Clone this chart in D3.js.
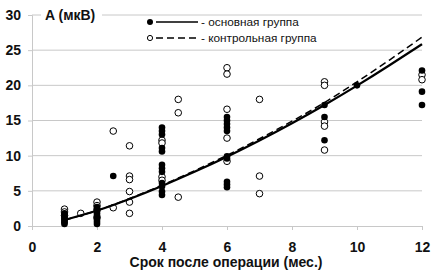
<!DOCTYPE html>
<html><head><meta charset="utf-8">
<script src="https://cdn.jsdelivr.net/npm/d3@7"></script>
<style>html,body{margin:0;padding:0;background:#fff;}svg{display:block;}</style>
</head><body>
<svg id="c" width="443" height="276"></svg>
<script>
// Data
const xTicks = [0, 2, 4, 6, 8, 10, 12];
const yTicks = [0, 5, 10, 15, 20, 25, 30];
const xTitle = "Срок после операции (мес.)";
const yTitle = "A (мкВ)";
const legendMain = "- основная группа";
const legendCtrl = "- контрольная группа";

// основная группа (filled)
const mainX = [1,1,1,1,1,1,1,1, 2,2,2,2,2,2,2,2,2, 2.5,
  4,4,4,4,4,4,4,4,4,4,4,4, 6,6,6,6,6,6,6,6,6,6, 9,9,9, 10, 12,12,12];
const mainY = [0.3,0.5,0.7,0.9,1.1,1.3,1.6,1.8, 0.3,0.6,0.9,1.2,1.5,1.8,2.1,2.4,2.7, 7.1,
  14.0,13.5,13.0,11.1,10.6,8.7,8.2,7.7,6.1,5.6,4.9,4.4,
  15.5,15.0,14.5,14.0,13.5,9.9,9.6,6.3,5.9,5.5, 17.2,15.5,12.2, 20.0, 22.1,19.1,17.2];

// контрольная группа (open)
const ctrlX = [1,1,1, 1.5, 2,2,2,2, 2.5,2.5, 3,3,3,3,3,3, 4,4,4,4, 4.5,4.5,4.5,
  6,6,6,6,6, 7,7,7, 9,9,9,9,9, 12,12];
const ctrlY = [2.4,2.0,1.5, 1.8, 3.4,2.9,2.3,1.2, 13.5,2.6, 11.4,7.1,6.6,4.9,3.4,1.8,
  12.2,11.8,7.0,6.5, 18.0,16.1,4.1,
  22.5,21.6,16.6,12.5,9.2, 18.0,7.1,4.6, 20.5,20.0,14.8,14.2,10.8, 21.5,20.8];

// trend lines (values read at each month)
const trendX = [1,2,3,4,5,6,7,8,9,10,11,12];
const trendMain = [0.85,2.2,3.85,5.7,7.7,9.85,12.15,14.6,17.2,19.95,22.85,25.85];
const trendCtrl = [0.85,2.2,3.9,5.8,7.85,10.05,12.4,14.9,17.55,20.5,23.6,26.85];

const svg = d3.select("#c");
const x = d3.scaleLinear().domain([0, 12]).range([32, 422]);
const y = d3.scaleLinear().domain([0, 30]).range([226, 15]);
const grid = "#c8c8c8";
const font = "'Liberation Sans', Arial, sans-serif";

// gridlines
svg.append("g").selectAll("line").data(yTicks.filter(d => d > 0)).join("line")
  .attr("x1", x(0)).attr("x2", x(12)).attr("y1", d => y(d)).attr("y2", d => y(d))
  .attr("stroke", grid).attr("stroke-width", 1);

// y axis
const yAxis = svg.append("g").attr("transform", `translate(${x(0)},0)`)
  .call(d3.axisLeft(y).tickValues(yTicks).tickSize(4).tickPadding(7));
yAxis.select(".domain").attr("stroke", grid);
yAxis.selectAll(".tick line").attr("stroke", grid);
yAxis.selectAll("text").attr("font-family", font).attr("font-weight", "bold")
  .attr("font-size", 14).attr("fill", "#111");

// x axis
const xAxis = svg.append("g").attr("transform", `translate(0,${y(0)})`)
  .call(d3.axisBottom(x).tickValues(xTicks).tickSize(4).tickPadding(12));
xAxis.select(".domain").attr("stroke", grid);
xAxis.selectAll(".tick line").attr("stroke", grid);
xAxis.selectAll("text").attr("font-family", font).attr("font-weight", "bold")
  .attr("font-size", 14).attr("fill", "#111");

// y title with white background
svg.append("rect").attr("x", 41).attr("y", 6).attr("width", 61).attr("height", 18).attr("fill", "#fff");
svg.append("text").attr("x", 45).attr("y", 20).text(yTitle)
  .attr("font-family", font).attr("font-weight", "bold").attr("font-size", 14).attr("fill", "#111");

// x title
svg.append("text").attr("x", 226).attr("y", 267).attr("text-anchor", "middle").text(xTitle)
  .attr("font-family", font).attr("font-weight", "bold").attr("font-size", 14).attr("fill", "#111");

// points
const r = 3.3;
svg.append("g").selectAll("circle").data(ctrlX.map((d, i) => [d, ctrlY[i]])).join("circle")
  .attr("cx", d => x(d[0])).attr("cy", d => y(d[1])).attr("r", r)
  .attr("fill", "#fff").attr("stroke", "#000").attr("stroke-width", 1);
svg.append("g").selectAll("circle").data(mainX.map((d, i) => [d, mainY[i]])).join("circle")
  .attr("cx", d => x(d[0])).attr("cy", d => y(d[1])).attr("r", r)
  .attr("fill", "#000");

// trend lines
const line = d3.line().x(d => x(d[0])).y(d => y(d[1])).curve(d3.curveNatural);
svg.append("path").datum(trendX.map((d, i) => [d, trendCtrl[i]])).attr("d", line)
  .attr("fill", "none").attr("stroke", "#000").attr("stroke-width", 1.5).attr("stroke-dasharray", "7,4");
svg.append("path").datum(trendX.map((d, i) => [d, trendMain[i]])).attr("d", line)
  .attr("fill", "none").attr("stroke", "#000").attr("stroke-width", 2.2);

// legend
const lg = svg.append("g");
lg.append("circle").attr("cx", 150).attr("cy", 22).attr("r", 3).attr("fill", "#000");
lg.append("line").attr("x1", 156).attr("x2", 198).attr("y1", 22).attr("y2", 22)
  .attr("stroke", "#000").attr("stroke-width", 1.5);
lg.append("text").attr("x", 201).attr("y", 26).text(legendMain)
  .attr("font-family", font).attr("font-size", 11.8).attr("fill", "#111");
lg.append("circle").attr("cx", 150).attr("cy", 38).attr("r", 2.6).attr("fill", "#fff")
  .attr("stroke", "#000").attr("stroke-width", 1);
lg.append("line").attr("x1", 156).attr("x2", 198).attr("y1", 38).attr("y2", 38)
  .attr("stroke", "#000").attr("stroke-width", 1.5).attr("stroke-dasharray", "7,4");
lg.append("text").attr("x", 201).attr("y", 42).text(legendCtrl)
  .attr("font-family", font).attr("font-size", 11.8).attr("fill", "#111");
</script>
</body></html>
